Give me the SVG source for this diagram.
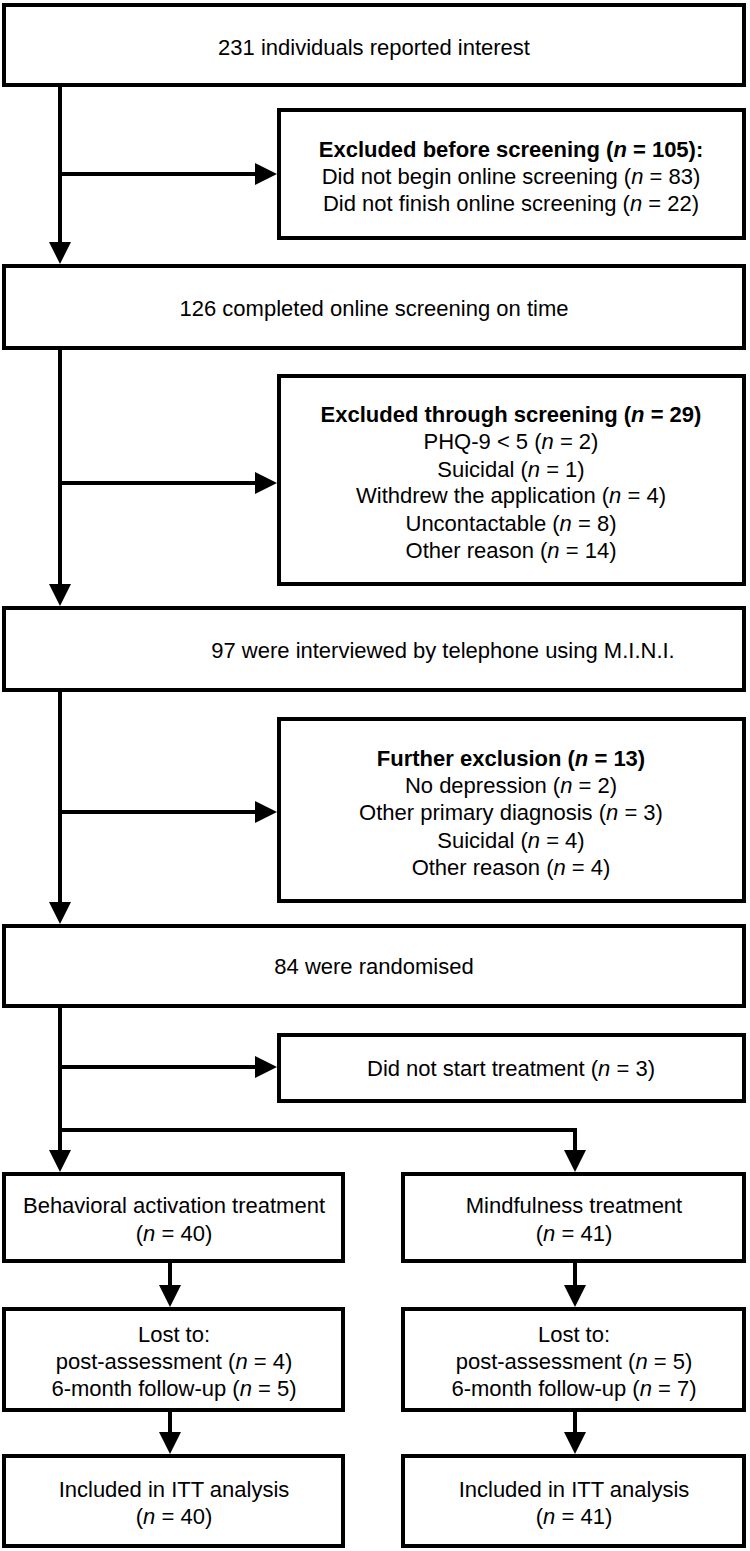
<svg xmlns="http://www.w3.org/2000/svg" width="750" height="1551" viewBox="0 0 750 1551">
<defs>
<style>
.box{fill:#fff;stroke:#000;stroke-width:4}
.ln{fill:none;stroke:#000;stroke-width:4}
text{font-family:"Liberation Sans",Arial,Helvetica,sans-serif;font-size:22px;fill:#000;text-anchor:middle}
.b{font-weight:bold}
.i{font-style:italic}
</style>
<marker id="ah" markerUnits="userSpaceOnUse" markerWidth="22" markerHeight="22" refX="0" refY="11" orient="auto" viewBox="0 0 22 22">
<path d="M0,0 L22,11 L0,22 Z" fill="#000"/>
</marker>
</defs>
<rect width="750" height="1551" fill="#fff"/>
<g id="connectors">
<path class="ln" d="M60,85 V242" marker-end="url(#ah)"/>
<path class="ln" d="M60,174 H255" marker-end="url(#ah)"/>
<path class="ln" d="M60,348 V584" marker-end="url(#ah)"/>
<path class="ln" d="M60,483 H255" marker-end="url(#ah)"/>
<path class="ln" d="M60,690 V902" marker-end="url(#ah)"/>
<path class="ln" d="M60,812 H255" marker-end="url(#ah)"/>
<path class="ln" d="M60,1006 V1150" marker-end="url(#ah)"/>
<path class="ln" d="M60,1067 H255" marker-end="url(#ah)"/>
<path class="ln" d="M58,1130 H575 V1150" marker-end="url(#ah)"/>
<path class="ln" d="M170,1261 V1285" marker-end="url(#ah)"/>
<path class="ln" d="M575,1261 V1285" marker-end="url(#ah)"/>
<path class="ln" d="M170,1410 V1432" marker-end="url(#ah)"/>
<path class="ln" d="M575,1410 V1432" marker-end="url(#ah)"/>
</g>
<g id="n1">
<rect class="box" x="4" y="5" width="740" height="80"/>
<text x="374" y="55">231 individuals reported interest</text>
</g>
<g id="n2">
<rect class="box" x="279" y="110" width="465" height="128"/>
<text x="511" y="157" class="b">Excluded before screening (<tspan class="i">n</tspan> = 105):</text>
<text x="511" y="184">Did not begin online screening (<tspan class="i">n</tspan> = 83)</text>
<text x="511" y="211">Did not finish online screening (<tspan class="i">n</tspan> = 22)</text>
</g>
<g id="n3">
<rect class="box" x="4" y="266" width="740" height="82"/>
<text x="374" y="316">126 completed online screening on time</text>
</g>
<g id="n4">
<rect class="box" x="279" y="376" width="465" height="208"/>
<text x="511" y="422" class="b">Excluded through screening (<tspan class="i">n</tspan> = 29)</text>
<text x="511" y="449">PHQ-9 &lt; 5 (<tspan class="i">n</tspan> = 2)</text>
<text x="511" y="477">Suicidal (<tspan class="i">n</tspan> = 1)</text>
<text x="511" y="503">Withdrew the application (<tspan class="i">n</tspan> = 4)</text>
<text x="511" y="531">Uncontactable (<tspan class="i">n</tspan> = 8)</text>
<text x="511" y="558">Other reason (<tspan class="i">n</tspan> = 14)</text>
</g>
<g id="n5">
<rect class="box" x="4" y="608" width="740" height="82"/>
<text x="443" y="658">97 were interviewed by telephone using M.I.N.I.</text>
</g>
<g id="n6">
<rect class="box" x="279" y="719" width="465" height="182"/>
<text x="511" y="766" class="b">Further exclusion (<tspan class="i">n</tspan> = 13)</text>
<text x="511" y="793">No depression (<tspan class="i">n</tspan> = 2)</text>
<text x="511" y="820">Other primary diagnosis (<tspan class="i">n</tspan> = 3)</text>
<text x="511" y="848">Suicidal (<tspan class="i">n</tspan> = 4)</text>
<text x="511" y="875">Other reason (<tspan class="i">n</tspan> = 4)</text>
</g>
<g id="n7">
<rect class="box" x="4" y="926" width="740" height="80"/>
<text x="374" y="974">84 were randomised</text>
</g>
<g id="n8">
<rect class="box" x="279" y="1035" width="465" height="66"/>
<text x="511" y="1076">Did not start treatment (<tspan class="i">n</tspan> = 3)</text>
</g>
<g id="n9">
<rect class="box" x="4" y="1174" width="339" height="87"/>
<text x="174" y="1213">Behavioral activation treatment</text>
<text x="174" y="1241">(<tspan class="i">n</tspan> = 40)</text>
</g>
<g id="n10">
<rect class="box" x="403" y="1174" width="341" height="87"/>
<text x="574" y="1213">Mindfulness treatment</text>
<text x="574" y="1241">(<tspan class="i">n</tspan> = 41)</text>
</g>
<g id="n11">
<rect class="box" x="4" y="1309" width="339" height="101"/>
<text x="174" y="1342">Lost to:</text>
<text x="174" y="1369">post-assessment (<tspan class="i">n</tspan> = 4)</text>
<text x="174" y="1396">6-month follow-up (<tspan class="i">n</tspan> = 5)</text>
</g>
<g id="n12">
<rect class="box" x="403" y="1309" width="341" height="101"/>
<text x="574" y="1342">Lost to:</text>
<text x="574" y="1369">post-assessment (<tspan class="i">n</tspan> = 5)</text>
<text x="574" y="1396">6-month follow-up (<tspan class="i">n</tspan> = 7)</text>
</g>
<g id="n13">
<rect class="box" x="4" y="1456" width="339" height="90"/>
<text x="174" y="1497">Included in ITT analysis</text>
<text x="174" y="1524">(<tspan class="i">n</tspan> = 40)</text>
</g>
<g id="n14">
<rect class="box" x="403" y="1456" width="341" height="90"/>
<text x="574" y="1497">Included in ITT analysis</text>
<text x="574" y="1524">(<tspan class="i">n</tspan> = 41)</text>
</g>
</svg>
